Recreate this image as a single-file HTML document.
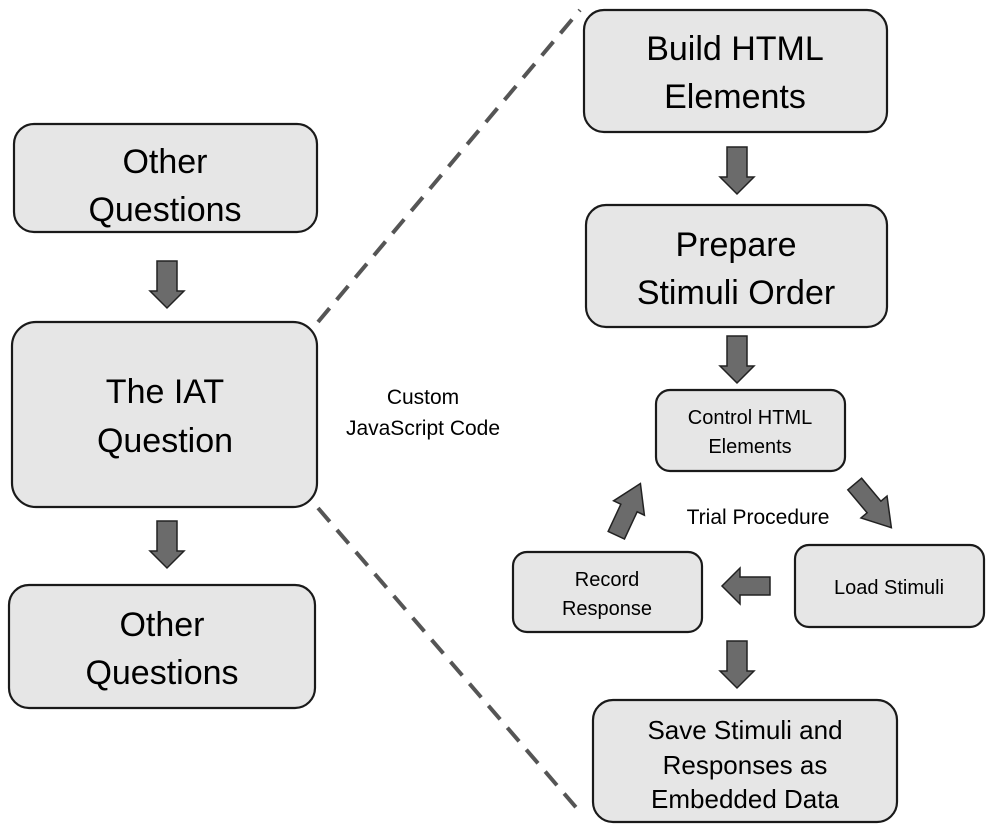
<!DOCTYPE html>
<html><head><meta charset="utf-8"><style>
html,body{margin:0;padding:0;background:#fff;}
svg{display:block;}
text{font-family:"Liberation Sans","Arimo",Arial,sans-serif;fill:#000;text-anchor:middle;}
</style></head><body>
<svg width="992" height="831" viewBox="0 0 992 831" xmlns="http://www.w3.org/2000/svg" font-family="Liberation Sans, Arimo, Arial, sans-serif">
<defs>
<path id="dn" d="M-10,0 H10 V30 H17 L0,47 L-17,30 H-10 Z"/>
</defs>
<g stroke="#555" stroke-width="4" stroke-dasharray="18,11" fill="none">
<line x1="318" y1="322" x2="580" y2="10"/>
<line x1="318" y1="508" x2="580" y2="812"/>
</g>
<g fill="#e6e6e6" stroke="#1a1a1a" stroke-width="2.2">
<rect x="14" y="124" width="303" height="108" rx="20"/>
<rect x="12" y="322" width="305" height="185" rx="24"/>
<rect x="9" y="585" width="306" height="123" rx="20"/>
<rect x="584" y="10" width="303" height="122" rx="20"/>
<rect x="586" y="205" width="301" height="122" rx="20"/>
<rect x="656" y="390" width="189" height="81" rx="14"/>
<rect x="795" y="545" width="189" height="82" rx="14"/>
<rect x="513" y="552" width="189" height="80" rx="14"/>
<rect x="593" y="700" width="304" height="122" rx="20"/>
</g>
<g fill="#6b6b6b" stroke="#222" stroke-width="1.5">
<use href="#dn" x="167" y="261"/>
<use href="#dn" x="167" y="521"/>
<use href="#dn" x="737" y="147"/>
<use href="#dn" x="737" y="336"/>
<use href="#dn" x="737" y="641"/>
<path d="M770,577 V595 H740 V604 L722,586 L740,568 V577 Z"/>
<path transform="translate(629,508) rotate(25)" d="M-9,30 H9 V0 H17 L0,-27 L-17,0 H-9 Z"/>
<path transform="translate(874,507) rotate(-40)" d="M-9,-30 H9 V0 H17 L0,27 L-17,0 H-9 Z"/>
</g>
<g font-size="34">
<text x="165" y="173">Other</text>
<text x="165" y="221">Questions</text>
<text x="165" y="403">The IAT</text>
<text x="165" y="452">Question</text>
<text x="162" y="636">Other</text>
<text x="162" y="684">Questions</text>
<text x="735" y="60">Build HTML</text>
<text x="735" y="108">Elements</text>
<text x="736" y="256">Prepare</text>
<text x="736" y="304">Stimuli Order</text>
</g>
<g font-size="26">
<text x="745" y="739">Save Stimuli and</text>
<text x="745" y="774">Responses as</text>
<text x="745" y="808">Embedded Data</text>
</g>
<g font-size="20">
<text x="750" y="424">Control HTML</text>
<text x="750" y="453">Elements</text>
<text x="889" y="594">Load Stimuli</text>
<text x="607" y="586">Record</text>
<text x="607" y="615">Response</text>
</g>
<g font-size="21">
<text x="758" y="524">Trial Procedure</text>
<text x="423" y="404">Custom</text>
<text x="423" y="435">JavaScript Code</text>
</g>
</svg>
</body></html>
